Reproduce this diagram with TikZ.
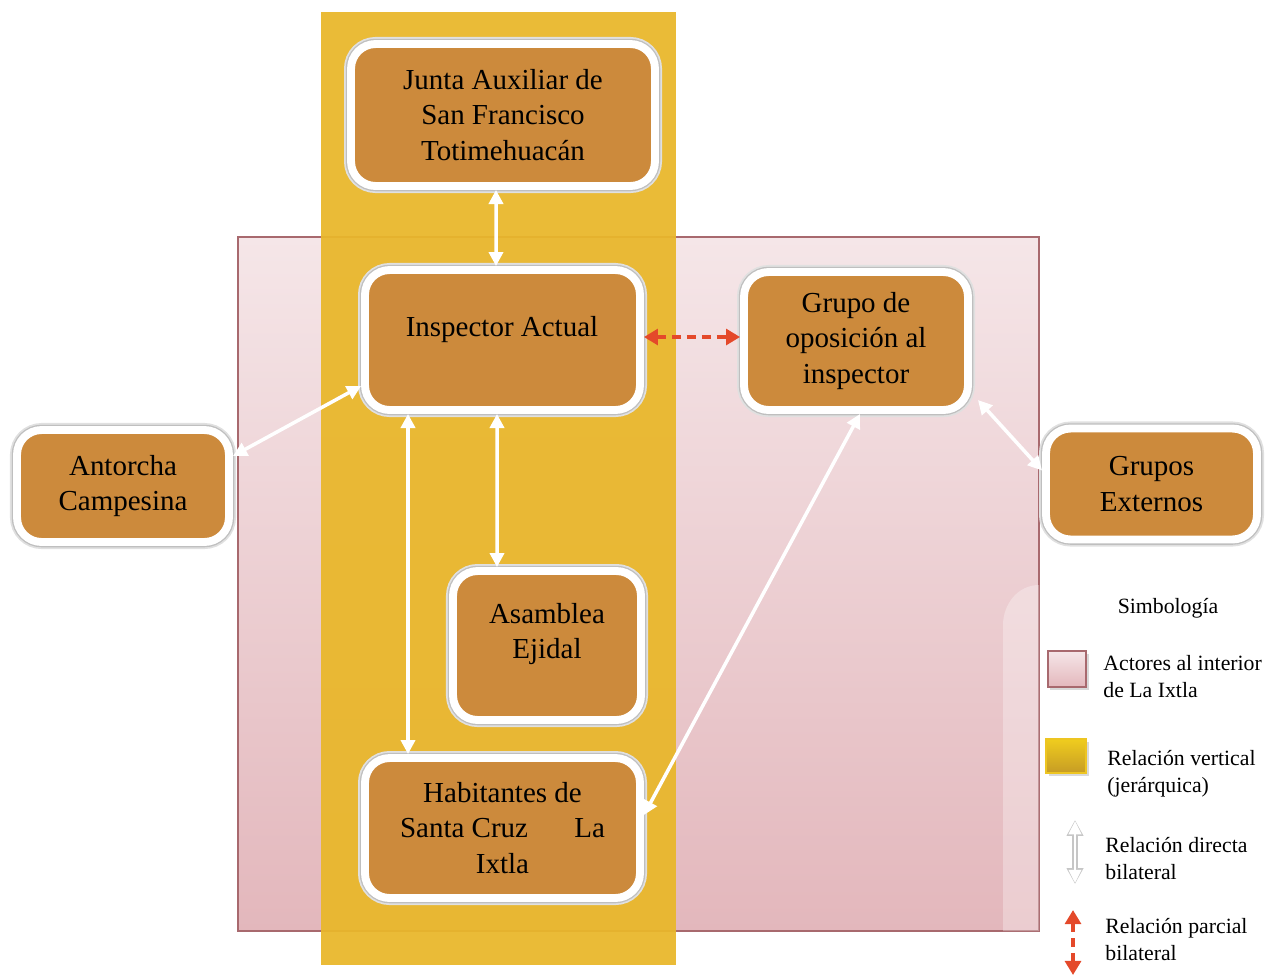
\documentclass[tikz,border=0pt]{standalone}
\usepackage{fontspec}
\setmainfont{Liberation Serif}
\usepackage{tikz}
\usetikzlibrary{arrows.meta,positioning,calc,shadows}
\definecolor{boxfill}{RGB}{204,138,60}
\definecolor{bandgold}{RGB}{233,183,43}
\definecolor{pinktop}{RGB}{245,230,232}
\definecolor{pinkbot}{RGB}{227,183,188}
\definecolor{pinkline}{RGB}{168,105,110}
\definecolor{partred}{RGB}{228,73,42}

\begin{document}
\begin{tikzpicture}[
    x=0.02cm, y=-0.02cm,
    actor/.style={rectangle, rounded corners=14pt, draw=white, line width=4.5pt, fill=boxfill,
        drop shadow={opacity=0.2, shadow xshift=1pt, shadow yshift=-1.5pt},
        preaction={draw=black!12, line width=8pt},
        preaction={draw=black!25, line width=6pt},
        align=center, font=\fontsize{16.5}{20.4}\selectfont, inner sep=2pt},
    boxtext/.style={align=center, font=\fontsize{16.5}{20.4}\selectfont},
    legtext/.style={anchor=west, align=left, inner sep=0pt, font=\fontsize{12.4}{15.3}\selectfont},
    direct/.style={{Triangle[length=8pt,width=8pt]}-{Triangle[length=8pt,width=8pt]}, white, line width=2pt},
    partial/.style={{Triangle[length=8pt,width=9pt]}-{Triangle[length=8pt,width=9pt]}, partred, line width=2.3pt, dash pattern=on 5pt off 3.5pt}
]
    \useasboundingbox (0,0) rectangle (1270,975);

    % Background areas
    \shade[top color=pinktop, bottom color=pinkbot, draw=pinkline, line width=0.8pt] (238,237) rectangle (1039,931);
    \fill[white, opacity=0.3] (1003,931) -- (1003,625) to[out=90,in=180] (1039,585) -- (1039,931) -- cycle;
    \fill[bandgold, opacity=0.94] (321,12) rectangle (676,965);

    % Actors
    \node[actor, minimum width=6.08cm, minimum height=2.84cm] (junta) at (503,115) {Junta Auxiliar de\\San Francisco\\Totimehuacán};
    \node[actor, minimum width=5.5cm, minimum height=2.8cm] (insp) at (502.5,340) {};
    \node[boxtext] (insptxt) at (502,330) {Inspector Actual};
    \node[actor, minimum width=4.48cm, minimum height=2.76cm] (grupo) at (856,341) {Grupo de\\oposición al\\inspector};
    \node[actor, minimum width=4.24cm, minimum height=2.24cm] (antorcha) at (123,486) {Antorcha\\Campesina};
    \node[actor, minimum width=4.22cm, minimum height=2.22cm] (externos) at (1151.5,484) {Grupos\\Externos};
    \node[actor, minimum width=3.76cm, minimum height=2.98cm] (asamblea) at (547,645.5) {};
    \node[boxtext] (asambleatxt) at (547,634) {Asamblea\\Ejidal};
    \node[actor, minimum width=5.5cm, minimum height=2.8cm] (habitantes) at (502.5,828) {Habitantes de\\Santa Cruz\hspace{1.6em}La\\Ixtla};

    % Relations
    \draw[direct] ([xshift=-0.14cm]junta.south) -- ([xshift=-0.13cm]insp.north);
    \draw[direct] ([yshift=0.6cm]antorcha.east) -- ([yshift=-0.92cm]insp.west);
    \draw[direct] ([xshift=-1.89cm]insp.south) -- ([xshift=-1.89cm]habitantes.north);
    \draw[direct] ([xshift=-0.11cm]insp.south) -- ([xshift=-1cm]asamblea.north);
    \draw[direct] ([yshift=0.26cm]habitantes.east) -- ([xshift=0.08cm]grupo.south);
    \draw[direct] ([shift={(0.12cm,-1.18cm)}]grupo.east) -- ([yshift=0.27cm]externos.west);
    \draw[partial] ([yshift=0.06cm]insp.east) -- ([yshift=0.08cm]grupo.west);

    % Legend
    \node[font=\fontsize{12.4}{15.3}\selectfont] (simb) at (1168,608) {Simbología};
    \fill[gray, opacity=0.3] (1050,654) rectangle (1089,690);
    \shade[top color=pinktop, bottom color=pinkbot, draw=pinkline, line width=0.8pt] (1048,651) rectangle (1086,687);
    \node[legtext] (leg1) at (1103,676.5) {Actores al interior\\de La Ixtla};
    \fill[gray, opacity=0.3] (1049,742) rectangle (1089,776);
    \shade[top color=bandgold!70!yellow, bottom color=bandgold!85!black, draw=bandgold!80!yellow, line width=0.6pt] (1046,739) rectangle (1086,773);
    \node[legtext] (leg2) at (1107,773.5) {Relación vertical\\(jerárquica)};
    \coordinate (d1) at (1075,820);
    \coordinate (d2) at (1075,884);
    \draw[{Triangle[length=9pt,width=9pt]}-{Triangle[length=9pt,width=9pt]}, gray!45, line width=3pt] (d1) -- (d2);
    \draw[{Triangle[length=7.5pt,width=7pt]}-{Triangle[length=7.5pt,width=7pt]}, white, line width=1.6pt, shorten <=0.6pt, shorten >=0.6pt] (d1) -- (d2);
    \node[legtext] (leg3) at (1105,858.5) {Relación directa\\bilateral};
    \coordinate (p1) at (1073,910);
    \coordinate (p2) at (1073,975);
    \draw[partial] (p1) -- (p2);
    \node[legtext] (leg4) at (1105,939.5) {Relación parcial\\bilateral};
\end{tikzpicture}
\end{document}
